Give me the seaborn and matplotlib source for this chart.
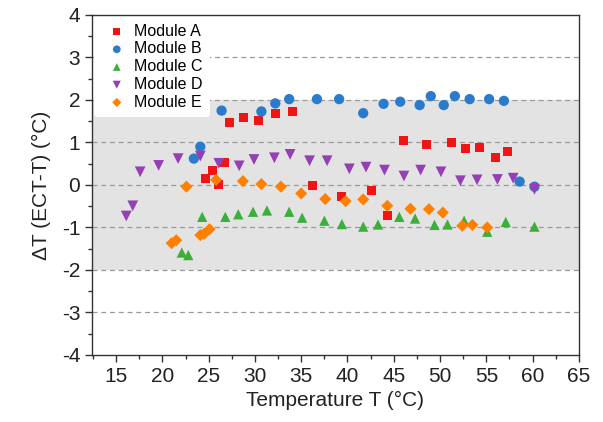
import matplotlib
matplotlib.use("Agg")
import matplotlib.pyplot as plt
import seaborn as sns
import pandas as pd
from matplotlib.ticker import MultipleLocator

# ---- data ----
a_x = [24.7, 25.4, 26.1, 26.7, 27.2, 28.8, 30.4, 32.2, 34.1, 36.2, 39.4, 42.6, 44.3, 46.1, 48.5, 51.2, 52.7, 54.3, 56.0, 57.3]
a_y = [0.15, 0.35, 0.02, 0.53, 1.48, 1.58, 1.51, 1.69, 1.72, -0.02, -0.26, -0.12, -0.71, 1.04, 0.96, 1.01, 0.85, 0.89, 0.65, 0.79]

b_x = [23.4, 24.1, 26.4, 30.7, 32.2, 33.7, 36.7, 39.1, 41.7, 43.9, 45.7, 47.8, 49.0, 50.4, 51.6, 53.2, 55.3, 56.9, 58.6, 60.2]
b_y = [0.62, 0.90, 1.75, 1.73, 1.92, 2.02, 2.02, 2.02, 1.69, 1.91, 1.96, 1.88, 2.09, 1.88, 2.09, 2.02, 2.02, 1.98, 0.08, -0.04]

c_x = [22.1, 22.8, 24.3, 26.8, 28.2, 29.8, 31.3, 33.7, 35.1, 37.5, 39.4, 41.7, 43.3, 45.6, 47.3, 49.4, 50.8, 52.6, 55.1, 57.1, 60.2]
c_y = [-1.59, -1.65, -0.75, -0.75, -0.69, -0.63, -0.60, -0.63, -0.77, -0.84, -0.92, -0.98, -0.93, -0.75, -0.79, -0.94, -0.93, -0.84, -1.10, -0.87, -0.98]

d_x = [16.1, 16.8, 17.6, 19.6, 21.7, 24.1, 26.1, 28.3, 29.9, 32.1, 33.8, 35.9, 37.8, 40.2, 42.0, 44.0, 46.1, 47.9, 50.1, 52.2, 54.0, 56.2, 57.9, 60.2]
d_y = [-0.73, -0.49, 0.31, 0.46, 0.62, 0.68, 0.51, 0.45, 0.60, 0.64, 0.72, 0.57, 0.57, 0.38, 0.42, 0.35, 0.21, 0.35, 0.31, 0.10, 0.12, 0.13, 0.16, -0.10]

e_x = [21.0, 21.5, 22.6, 24.1, 24.5, 25.1, 25.8, 28.7, 30.7, 32.8, 35.0, 37.6, 39.8, 41.7, 44.3, 46.8, 48.8, 50.3, 52.4, 53.5, 55.1]
e_y = [-1.37, -1.30, -0.04, -1.18, -1.15, -1.04, 0.12, 0.09, 0.02, -0.04, -0.20, -0.33, -0.38, -0.34, -0.49, -0.56, -0.57, -0.65, -0.96, -0.94, -1.00]

modules = ["Module A", "Module B", "Module C", "Module D", "Module E"]
colors = ["#f01414", "#2b7bcc", "#3cae3c", "#9440b4", "#ff8000"]
markers = ["s", "o", "^", "v", "D"]
sizes = [42, 55, 55, 60, 38]

xs = [a_x, b_x, c_x, d_x, e_x]
ys = [a_y, b_y, c_y, d_y, e_y]

plt.rcParams["font.family"] = ["Liberation Sans", "DejaVu Sans"]
plt.rcParams["axes.unicode_minus"] = False

fig = plt.figure(figsize=(6.03, 4.22), dpi=100)
ax = fig.add_axes([0.1526, 0.1588, 0.8074, 0.8057])

ax.axhspan(-2, 2, color="#e3e3e3", zorder=0, lw=0)
for yv in [-3, -2, -1, 0, 1, 2, 3]:
    ax.axhline(yv, color="#9a9a9a", lw=0.9, ls=(0, (4, 3)), zorder=1)

for name, x, y, c, m, s in zip(modules, xs, ys, colors, markers, sizes):
    df = pd.DataFrame({"T": x, "dT": y})
    sns.scatterplot(data=df, x="T", y="dT", ax=ax, color=c, marker=m, s=s,
                    edgecolor="none", linewidth=0, label=name, zorder=3)

ax.set_xlim(12.4, 65)
ax.set_ylim(-4, 4)
ax.xaxis.set_major_locator(MultipleLocator(5))
ax.xaxis.set_minor_locator(MultipleLocator(2.5))
ax.yaxis.set_major_locator(MultipleLocator(1))
ax.yaxis.set_minor_locator(MultipleLocator(0.5))
ax.set_xticks(range(15, 66, 5))
ax.tick_params(axis="both", which="major", direction="out", length=5, width=1,
               labelsize=15, color="#333333", labelcolor="#222222")
ax.tick_params(axis="both", which="minor", direction="out", length=3, width=1, color="#333333")
for sp in ax.spines.values():
    sp.set_color("#333333")
    sp.set_linewidth(1)

ax.set_xlabel("Temperature T (°C)", fontsize=15, color="#222222", labelpad=4)
ax.set_ylabel("ΔT (ECT-T) (°C)", fontsize=15, color="#222222", labelpad=8)

leg = ax.legend(loc="upper left", fontsize=11.5, frameon=True, facecolor="white",
                edgecolor="none", framealpha=1, borderaxespad=0.1,
                handletextpad=0.1, labelspacing=0.17, markerscale=0.75,
                borderpad=0.45)
leg.set_zorder(5)

fig.savefig("out.png", dpi=100)
